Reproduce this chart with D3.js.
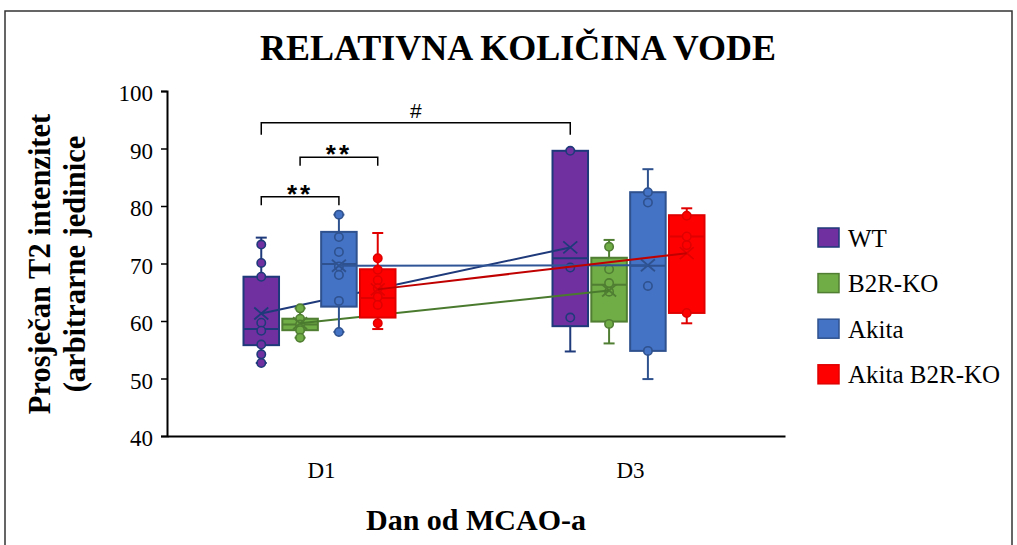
<!DOCTYPE html>
<html>
<head>
<meta charset="utf-8">
<script src="https://cdn.jsdelivr.net/npm/d3@7/dist/d3.min.js"></script>
<style>
html,body{margin:0;padding:0;background:#fff;}
svg{display:block;}
</style>
</head>
<body>
<svg id="chart" width="1017" height="545"></svg>
<script>
// ---- data ----
const categories = ["D1", "D3"];
const seriesNames = ["WT", "B2R-KO", "Akita", "Akita B2R-KO"];
const yTicks = [40, 50, 60, 70, 80, 90, 100];

// individual points per category [D1, D3]
const wtPoints = [[73.3, 70.1, 67.7, 59.7, 58.3, 55.9, 54.2, 52.7], [89.6, 69.3, 60.6]];
const b2rPoints = [[62.2, 60.4, 59.4, 58.4, 57.1], [72.9, 69.0, 66.6, 65.1, 59.5]];
const akitaPoints = [[78.5, 74.6, 72.0, 69.5, 68.0, 63.5, 58.1], [82.4, 80.6, 66.1, 54.8]];
const akitaB2rPoints = [[70.9, 68.9, 67.1, 65.7, 64.2, 62.8, 59.6], [78.3, 74.7, 73.2, 61.4]];

// box stats [min, q1, median, q3, max] per category
const wtStats = [[52.7, 55.8, 58.6, 67.7, 74.5], [54.7, 59.1, 70.9, 89.6, 89.6]];
const b2rStats = [[57.1, 58.4, 59.4, 60.4, 62.2], [56.1, 59.9, 66.3, 71.0, 74.1]];
const akitaStats = [[58.1, 62.5, 69.9, 75.5, 78.5], [49.9, 54.8, 69.6, 82.4, 86.4]];
const akitaB2rStats = [[58.6, 60.6, 64.0, 69.0, 75.3], [59.6, 61.4, 74.7, 78.4, 79.6]];

// means per category
const wtMeans = [61.3, 72.8];
const b2rMeans = [59.6, 65.3];
const akitaMeans = [69.6, 69.7];
const akitaB2rMeans = [65.5, 71.8];

// significance brackets
const sigLabels = ["**", "**", "#"];
const sigFrom = [["D1", "WT"], ["D1", "B2R-KO"], ["D1", "WT"]];
const sigTo = [["D1", "Akita"], ["D1", "Akita B2R-KO"], ["D3", "WT"]];
const sigLevel = [81.6, 88.5, 94.5];

// ---- styles ----
const fills = ["#7030a0", "#70ad47", "#4472c4", "#ff0000"];
const strokes = ["#1f3a7a", "#507e32", "#2f528f", "#e00000"];
const lineColors = ["#1f3a7a", "#4a7a2e", "#2f5597", "#c00000"];

const series = [
  {name: seriesNames[0], points: wtPoints, stats: wtStats, means: wtMeans},
  {name: seriesNames[1], points: b2rPoints, stats: b2rStats, means: b2rMeans},
  {name: seriesNames[2], points: akitaPoints, stats: akitaStats, means: akitaMeans},
  {name: seriesNames[3], points: akitaB2rPoints, stats: akitaB2rStats, means: akitaB2rMeans}
];

const svg = d3.select("#chart");
const serif = "Liberation Serif, Times New Roman, Times, serif";
const sans = "Liberation Sans, Arial, sans-serif";

// frame
svg.append("rect").attr("x", 5).attr("y", 11).attr("width", 1007).attr("height", 560)
  .attr("fill", "none").attr("stroke", "#333").attr("stroke-width", 1.5);

const x0 = 167, x1 = 785, yTop = 91, yBot = 436;
const x = d3.scaleBand().domain(categories).range([x0, x1]);
const groupShift = -2;
const xs = d3.scaleBand().domain(seriesNames).range([-76 + groupShift, 76 + groupShift]).paddingInner(0.085);
const y = d3.scaleLinear().domain([40, 100]).range([yBot, yTop]);
const bw = xs.bandwidth();
const cx = (cat, s) => x(cat) + x.bandwidth() / 2 + xs(s) + bw / 2;

// title
svg.append("text").attr("x", 518).attr("y", 60).attr("text-anchor", "middle")
  .style("font-family", serif).attr("font-weight", "bold").attr("font-size", 36)
  .text("RELATIVNA KOLIČINA VODE");

// y axis
const yAxis = d3.axisLeft(y).tickValues(yTicks).tickSize(6).tickPadding(8);
const gy = svg.append("g").attr("transform", `translate(${x0},0)`).call(yAxis);
gy.attr("font-family", null);
gy.select(".domain").attr("stroke", "#000").attr("stroke-width", 2);
gy.selectAll(".tick line").attr("stroke", "#000").attr("stroke-width", 1.5);
gy.selectAll(".tick text").style("font-family", serif).attr("font-size", 23).attr("fill", "#000").attr("dy", "0.42em");

// x axis
const xAxis = d3.axisBottom(x).tickSize(0).tickPadding(26);
const gx = svg.append("g").attr("transform", `translate(0,${yBot})`).call(xAxis);
gx.attr("font-family", null);
gx.select(".domain").attr("stroke", "#000").attr("stroke-width", 2.2);
gx.selectAll(".tick text").style("font-family", serif).attr("font-size", 23).attr("fill", "#000");

// axis titles
svg.append("text").attr("x", 476).attr("y", 530).attr("text-anchor", "middle")
  .style("font-family", serif).attr("font-weight", "bold").attr("font-size", 30)
  .text("Dan od MCAO-a");
const yt = svg.append("text").attr("transform", "translate(50,264) rotate(-90)")
  .attr("text-anchor", "middle").style("font-family", serif).attr("font-weight", "bold").attr("font-size", 30.5);
yt.append("tspan").attr("x", 0).attr("y", 0).text("Prosječan T2 intenzitet");
yt.append("tspan").attr("x", 0).attr("y", 35).text("(arbitrarne jedinice");

// series
series.forEach((s, si) => {
  const g = svg.append("g");
  const fill = fills[si], stroke = strokes[si];
  categories.forEach((cat, ci) => {
    const st = s.stats[ci];
    const c = cx(cat, s.name);
    // whiskers
    g.append("line").attr("x1", c).attr("x2", c).attr("y1", y(st[3])).attr("y2", y(st[4]))
      .attr("stroke", stroke).attr("stroke-width", 2);
    g.append("line").attr("x1", c).attr("x2", c).attr("y1", y(st[1])).attr("y2", y(st[0]))
      .attr("stroke", stroke).attr("stroke-width", 2);
    [st[0], st[4]].forEach(v => {
      g.append("line").attr("x1", c - 5.5).attr("x2", c + 5.5).attr("y1", y(v)).attr("y2", y(v))
        .attr("stroke", stroke).attr("stroke-width", 2);
    });
    // box
    g.append("rect").attr("x", c - bw / 2).attr("y", y(st[3])).attr("width", bw)
      .attr("height", y(st[1]) - y(st[3])).attr("fill", fill).attr("stroke", stroke).attr("stroke-width", 2);
    // median
    g.append("line").attr("x1", c - bw / 2).attr("x2", c + bw / 2).attr("y1", y(st[2])).attr("y2", y(st[2]))
      .attr("stroke", stroke).attr("stroke-width", 2);
    // points
    g.selectAll(null).data(s.points[ci]).join("circle")
      .attr("cx", c).attr("cy", d => y(d)).attr("r", 4.2)
      .attr("fill", fill).attr("stroke", stroke).attr("stroke-width", 1.6);
    // mean X
    const my = y(s.means[ci]);
    g.append("path").attr("d", `M${c - 7},${my - 6}L${c + 7},${my + 6}M${c - 7},${my + 6}L${c + 7},${my - 6}`)
      .attr("stroke", stroke).attr("stroke-width", 1.8).attr("fill", "none");
  });
  // mean line
  const line = d3.line().x((d, i) => cx(categories[i], s.name)).y(d => y(d));
  g.append("path").attr("d", line(s.means)).attr("fill", "none")
    .attr("stroke", lineColors[si]).attr("stroke-width", 2);
});

// significance brackets
sigLabels.forEach((lab, i) => {
  const xa = cx(sigFrom[i][0], sigFrom[i][1]);
  const xb = cx(sigTo[i][0], sigTo[i][1]);
  const yl = y(sigLevel[i]);
  const leg = lab === "#" ? 12 : 8.5;
  svg.append("path").attr("d", `M${xa},${yl + leg}V${yl}H${xb}V${yl + leg}`)
    .attr("fill", "none").attr("stroke", "#000").attr("stroke-width", 1.5);
  svg.append("text").attr("x", (xa + xb) / 2).attr("y", lab === "#" ? yl - 5 : yl + 6)
    .attr("text-anchor", "middle").style("font-family", sans)
    .attr("font-size", lab === "#" ? 21 : 26).attr("font-weight", lab === "#" ? "normal" : "bold")
    .attr("letter-spacing", lab === "#" ? 0 : 3)
    .text(lab);
});

// legend
const lg = svg.append("g").attr("transform", "translate(818,228)");
seriesNames.forEach((n, i) => {
  const row = lg.append("g").attr("transform", `translate(0,${i * 45.6})`);
  row.append("rect").attr("x", 0).attr("y", 0).attr("width", 21).attr("height", 19)
    .attr("fill", fills[i]).attr("stroke", strokes[i]).attr("stroke-width", 1.5);
  row.append("text").attr("x", 30).attr("y", 18.5).style("font-family", serif).attr("font-size", 25)
    .attr("fill", "#000").text(n);
});
</script>
</body>
</html>
